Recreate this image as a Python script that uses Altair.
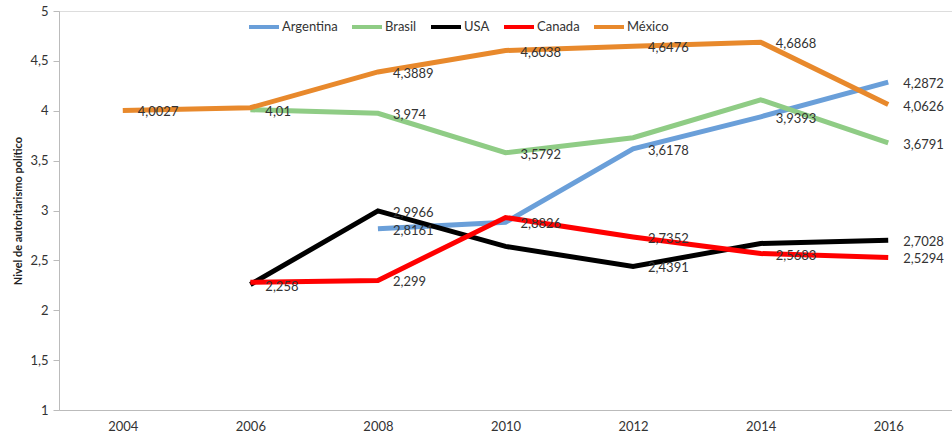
import altair as alt
import pandas as pd

years = [2004, 2006, 2008, 2010, 2012, 2014, 2016]
countries = ["Argentina", "Brasil", "USA", "Canada", "México"]
colors = ["#6a9fd9", "#8fcc85", "#000000", "#ff0000", "#e8892c"]

argentina = [None, None, 2.8161, 2.8826, 3.6178, 3.9393, 4.2872]
brasil = [None, 4.01, 3.974, 3.5792, 3.73, 4.11, 3.6791]
usa = [None, 2.258, 2.9966, 2.64, 2.4391, 2.67, 2.7028]
canada = [None, 2.28, 2.299, 2.93, 2.7352, 2.5683, 2.5294]
mexico = [4.0027, 4.03, 4.3889, 4.6038, 4.6476, 4.6868, 4.0626]

argentina_labels = [None, None, "2,8161", "2,8826", "3,6178", "3,9393", "4,2872"]
brasil_labels = [None, "4,01", "3,974", "3,5792", None, None, "3,6791"]
usa_labels = [None, "2,258", "2,9966", None, "2,4391", None, "2,7028"]
canada_labels = [None, None, "2,299", None, "2,7352", "2,5683", "2,5294"]
mexico_labels = ["4,0027", None, "4,3889", "4,6038", "4,6476", "4,6868", "4,0626"]

y_ticks = [1, 1.5, 2, 2.5, 3, 3.5, 4, 4.5, 5]

series = [argentina, brasil, usa, canada, mexico]
labels = [argentina_labels, brasil_labels, usa_labels, canada_labels, mexico_labels]

rows = []
for c, vals, labs in zip(countries, series, labels):
    for yr, v, lab in zip(years, vals, labs):
        if v is not None:
            rows.append({"Año": str(yr), "País": c, "Valor": v, "Etiqueta": lab if lab else ""})
df = pd.DataFrame(rows)

FONT = "Lato"

x_enc = alt.X("Año:O", scale=alt.Scale(type="point", padding=0.5),
              axis=alt.Axis(title=None, ticks=False, labelAngle=0, labelPadding=10,
                            labelFontSize=13, labelColor="#333333", domainColor="#bbbbbb",
                            grid=False))
y_enc = alt.Y("Valor:Q", scale=alt.Scale(domain=[1, 5], nice=False, zero=False),
              axis=alt.Axis(title="Nivel de autoritarismo político", values=y_ticks,
                            labelExpr="replace(toString(datum.value), '.', ',')",
                            grid=False, tickSize=6, tickColor="#bbbbbb", domainColor="#bbbbbb",
                            labelPadding=5, labelFontSize=13, labelColor="#333333",
                            titleFontSize=11, titleFontWeight="bold", titleColor="#222222",
                            titlePadding=6))
color_enc = alt.Color("País:N", scale=alt.Scale(domain=countries, range=colors),
                      legend=alt.Legend(title=None, orient="none", direction="horizontal",
                                        legendX=188, legendY=-1, symbolType="stroke",
                                        symbolSize=900, symbolStrokeWidth=4,
                                        labelFontSize=13, labelColor="#333333",
                                        labelOffset=1, columnPadding=6, padding=0))

layers = []
for c in countries:
    layers.append(
        alt.Chart(df).transform_filter(alt.datum["País"] == c)
        .mark_line(strokeWidth=5)
        .encode(x=x_enc, y=y_enc, color=color_enc)
    )

text = alt.Chart(df).mark_text(align="left", baseline="middle", dx=15, dy=2,
                               fontSize=13, font=FONT, color="#333333").encode(
    x=alt.X("Año:O"), y=alt.Y("Valor:Q"), text="Etiqueta:N")

chart = alt.layer(*layers, text).properties(
    width=893, height=399,
    autosize=alt.AutoSizeParams(type="none"),
    padding={"left": 59, "top": 11, "right": 0, "bottom": 27},
    background="white",
).configure_view(stroke=None).configure(font=FONT)

chart.save("out.html", embed_options={"renderer": "svg", "actions": False})
